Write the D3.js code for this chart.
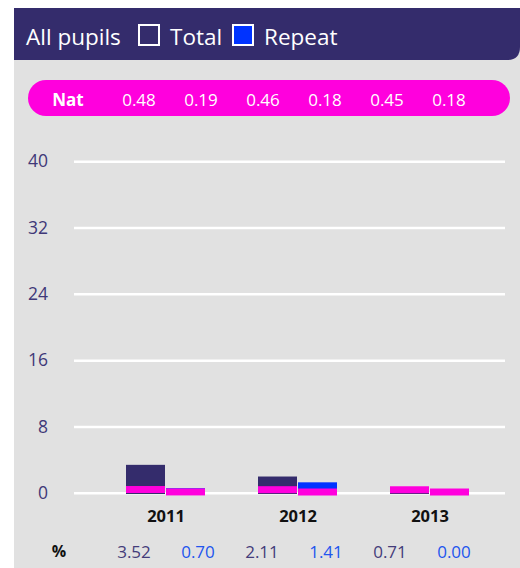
<!DOCTYPE html>
<html>
<head>
<meta charset="utf-8">
<script src="https://cdn.jsdelivr.net/npm/d3@7"></script>
<style>
  html, body { margin: 0; padding: 0; background: #fff; }
  svg { display: block; font-family: "Open Sans", "Noto Sans", sans-serif; }
</style>
</head>
<body>
<div id="chart"></div>
<script>
// data
const years = ["2011", "2012", "2013"];
const totalPct = [3.52, 2.11, 0.71];
const repeatPct = [0.70, 1.41, 0.00];
const natTotal = [0.48, 0.46, 0.45];
const natRepeat = [0.19, 0.18, 0.18];
const yTicks = [0, 8, 16, 24, 32, 40];

const width = 520;
const height = 568;
const navy = "#342c6c";
const magenta = "#ff00dd";
const blue = "#0033ff";

const svg = d3.select("#chart").append("svg")
  .attr("width", width)
  .attr("height", height);

// panel background
svg.append("rect")
  .attr("x", 14).attr("y", 8)
  .attr("width", width - 14).attr("height", height - 8)
  .attr("fill", "#e1e1e1");

// header band, only bottom-right corner rounded
const r = 13;
svg.append("path")
  .attr("d", `M14,8 H520 V${60 - r} Q520,60 ${520 - r},60 H14 Z`)
  .attr("fill", navy);

const header = svg.append("g").attr("fill", "#fff").style("font-size", "22.5px");
header.append("text").attr("x", 26).attr("y", 45).text("All pupils");
header.append("rect").attr("x", 139).attr("y", 25).attr("width", 20).attr("height", 20)
  .attr("fill", navy).attr("stroke", "#fff").attr("stroke-width", 2);
header.append("text").attr("x", 170).attr("y", 45).text("Total");
header.append("rect").attr("x", 233).attr("y", 25).attr("width", 20).attr("height", 20)
  .attr("fill", blue).attr("stroke", "#fff").attr("stroke-width", 2);
header.append("text").attr("x", 264).attr("y", 45).text("Repeat");

// national pill
const natVals = [];
natTotal.forEach((d, i) => { natVals.push(d, natRepeat[i]); });
svg.append("rect")
  .attr("x", 28).attr("y", 80).attr("width", 482).attr("height", 36)
  .attr("rx", 18).attr("fill", magenta);
svg.append("text")
  .attr("x", 68).attr("y", 106).attr("text-anchor", "middle")
  .attr("fill", "#fff").style("font-size", "17px").style("font-weight", "bold")
  .text("Nat");
const pillX = d3.scalePoint().domain(d3.range(natVals.length)).range([139, 449]);
svg.append("g").selectAll("text").data(natVals).join("text")
  .attr("x", (d, i) => pillX(i)).attr("y", 106)
  .attr("text-anchor", "middle").attr("fill", "#fff").style("font-size", "17px")
  .text(d => d.toFixed(2));

// scales (gridlines sit a little above the bar baseline)
const y = d3.scaleLinear().domain([0, 40]).range([494, 162.6]);
const x = d3.scaleBand().domain(years).range([100, 496]);
const sub = d3.scaleBand().domain(["total", "repeat"]).range([26, 106]);

// gridlines + y labels
const yAxis = svg.append("g").attr("transform", "translate(74,-1.3)")
  .call(d3.axisLeft(y).tickValues(yTicks).tickSize(-431).tickPadding(26));
yAxis.select(".domain").remove();
yAxis.selectAll(".tick line").attr("stroke", "#fff").attr("stroke-width", 2.5);
yAxis.selectAll(".tick text")
  .attr("fill", "#3f3878").style("font-size", "17.5px")
  .style("font-family", "'Open Sans', 'Noto Sans', sans-serif");

// bars
const groups = svg.append("g").selectAll("g").data(years).join("g")
  .attr("transform", d => `translate(${x(d)},0)`);

groups.append("rect")
  .attr("x", sub("total")).attr("width", sub.bandwidth() - 1)
  .attr("y", (d, i) => y(totalPct[i]))
  .attr("height", (d, i) => y(0) - y(totalPct[i]))
  .attr("fill", navy);
groups.append("rect")
  .attr("x", sub("repeat")).attr("width", sub.bandwidth() - 1)
  .attr("y", (d, i) => y(repeatPct[i]))
  .attr("height", (d, i) => y(0) - y(repeatPct[i]))
  .attr("fill", blue);

// national markers
groups.append("rect")
  .attr("x", sub("total")).attr("width", sub.bandwidth() - 1)
  .attr("y", (d, i) => y(natTotal[i]) - 4).attr("height", 7)
  .attr("fill", magenta);
groups.append("rect")
  .attr("x", sub("repeat")).attr("width", sub.bandwidth() - 1)
  .attr("y", (d, i) => y(natRepeat[i]) - 4).attr("height", 7)
  .attr("fill", magenta);

// year labels
const xAxis = svg.append("g").attr("transform", "translate(0,505)")
  .call(d3.axisBottom(x).tickSize(0).tickPadding(0));
xAxis.select(".domain").remove();
xAxis.selectAll(".tick text")
  .attr("dy", 0).attr("y", 17)
  .attr("fill", "#111").style("font-size", "16.5px").style("font-weight", "bold")
  .style("font-family", "'Open Sans', 'Noto Sans', sans-serif");

// percentage row
const pctVals = [];
totalPct.forEach((d, i) => { pctVals.push({ v: d, k: "total" }, { v: repeatPct[i], k: "repeat" }); });
svg.append("text")
  .attr("x", 59).attr("y", 557).attr("text-anchor", "middle")
  .attr("fill", "#111").style("font-size", "16px").style("font-weight", "bold")
  .text("%");
const pctX = d3.scalePoint().domain(d3.range(pctVals.length)).range([134, 454]);
svg.append("g").selectAll("text").data(pctVals).join("text")
  .attr("x", (d, i) => pctX(i)).attr("y", 558)
  .attr("text-anchor", "middle").style("font-size", "17px")
  .attr("fill", d => d.k === "total" ? "#443c7a" : "#2255ee")
  .text(d => d.v.toFixed(2));
</script>
</body>
</html>
